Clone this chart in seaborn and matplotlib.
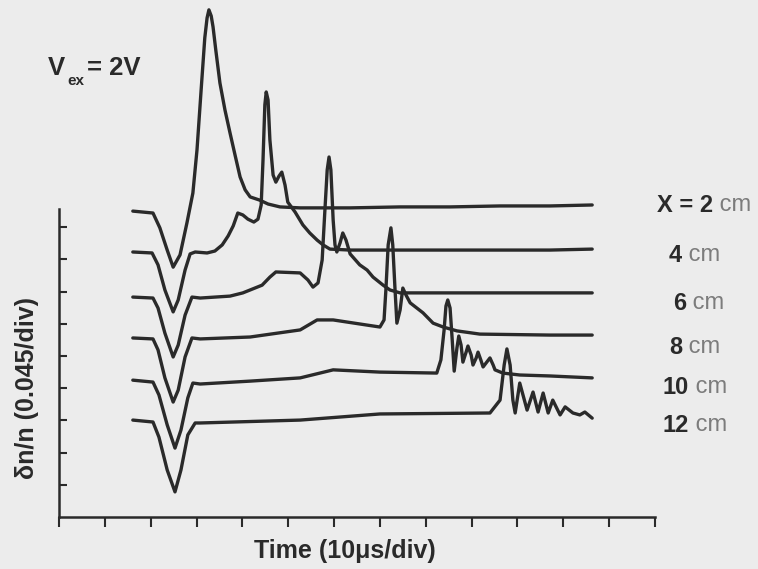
import matplotlib
matplotlib.use("Agg")
import matplotlib.pyplot as plt
import pandas as pd
import seaborn as sns

# probe positions (labels on the right) and the traces
# time in divisions (10 us/div), signal in divisions (0.045/div)
positions = ["X = 2 cm", "4 cm", "6 cm", "8 cm", "10 cm", "12 cm"]

t_2cm = [1.61, 2.05, 2.20, 2.36, 2.49, 2.64, 2.79, 2.92, 3.01, 3.10, 3.18, 3.23, 3.27, 3.32, 3.36,
         3.42, 3.51, 3.62, 3.73, 3.84, 3.95, 4.06, 4.17, 4.38, 4.56, 4.82, 5.26, 6.35, 7.44, 8.53,
         9.62, 10.71, 11.63]
y_2cm = [9.50, 9.44, 8.98, 8.29, 7.76, 8.14, 9.13, 10.06, 11.40, 13.26, 14.88, 15.50, 15.75, 15.56,
         15.22, 14.50, 13.48, 12.64, 11.93, 11.24, 10.56, 10.16, 9.94, 9.84, 9.72, 9.63, 9.60, 9.60,
         9.63, 9.63, 9.66, 9.66, 9.69]

t_4cm = [1.61, 2.03, 2.16, 2.31, 2.49, 2.60, 2.75, 2.86, 2.97, 3.23, 3.40, 3.56, 3.69, 3.80, 3.90,
         4.01, 4.12, 4.25, 4.34, 4.41, 4.45, 4.49, 4.52, 4.56, 4.60, 4.67, 4.73, 4.80, 4.86, 4.93,
         4.99, 5.15, 5.32, 5.47, 5.63, 5.76, 5.91, 6.35, 7.44, 8.53, 9.62, 10.71, 11.63]
y_4cm = [8.23, 8.20, 7.83, 7.05, 6.37, 6.74, 7.67, 8.17, 8.23, 8.20, 8.26, 8.45, 8.73, 9.04, 9.44,
         9.38, 9.25, 9.16, 9.25, 9.69, 11.09, 12.80, 13.20, 12.95, 11.71, 10.62, 10.40, 10.59, 10.71,
         10.31, 9.78, 9.47, 9.07, 8.82, 8.60, 8.45, 8.32, 8.29, 8.29, 8.29, 8.29, 8.29, 8.32]

t_6cm = [1.61, 2.05, 2.16, 2.31, 2.49, 2.60, 2.75, 2.90, 3.08, 3.73, 4.01, 4.43, 4.60, 4.73, 5.26,
         5.43, 5.54, 5.65, 5.74, 5.80, 5.85, 5.89, 5.93, 5.98, 6.02, 6.06, 6.13, 6.19, 6.26, 6.35,
         6.56, 6.72, 6.85, 7.07, 7.22, 7.44, 8.53, 9.62, 10.71, 11.63]
y_6cm = [6.83, 6.80, 6.49, 5.71, 4.97, 5.34, 6.27, 6.83, 6.80, 6.86, 6.96, 7.20, 7.45, 7.61, 7.58,
         7.36, 7.14, 7.27, 7.98, 9.53, 10.78, 11.18, 10.78, 9.22, 8.45, 8.23, 8.51, 8.82, 8.60, 8.17,
         7.83, 7.67, 7.45, 7.20, 7.05, 6.96, 6.96, 6.96, 6.96, 6.96]

t_8cm = [1.61, 2.05, 2.16, 2.31, 2.49, 2.60, 2.75, 2.90, 3.08, 4.17, 5.26, 5.63, 5.98, 6.72, 7.00,
         7.09, 7.13, 7.18, 7.24, 7.28, 7.33, 7.37, 7.44, 7.50, 7.57, 7.66, 7.94, 8.16, 8.38, 8.68,
         9.18, 10.71, 11.63]
y_8cm = [5.56, 5.53, 5.19, 4.32, 3.57, 3.94, 4.97, 5.56, 5.53, 5.59, 5.81, 6.12, 6.12, 5.96, 5.90,
         6.12, 7.05, 8.45, 8.98, 8.45, 7.05, 6.02, 6.43, 7.11, 6.89, 6.65, 6.34, 6.02, 5.90, 5.78,
         5.68, 5.65, 5.65]

t_10cm = [1.61, 2.05, 2.18, 2.36, 2.53, 2.66, 2.81, 2.92, 3.08, 4.17, 5.26, 5.98, 7.00, 8.24, 8.33,
          8.40, 8.44, 8.48, 8.53, 8.57, 8.62, 8.68, 8.72, 8.77, 8.81, 8.88, 8.92, 8.99, 9.03, 9.10,
          9.14, 9.20, 9.25, 9.33, 9.40, 9.47, 9.51, 9.68, 10.05, 10.71, 11.63]
y_10cm = [4.25, 4.19, 3.79, 2.86, 2.14, 2.70, 3.70, 4.16, 4.13, 4.22, 4.32, 4.57, 4.50, 4.47, 4.88,
          5.81, 6.55, 6.74, 6.49, 5.65, 4.53, 5.25, 5.62, 5.34, 4.81, 5.12, 5.31, 5.03, 4.72, 4.94,
          5.12, 4.88, 4.66, 4.81, 4.94, 4.72, 4.57, 4.47, 4.41, 4.38, 4.32]

t_12cm = [1.61, 2.05, 2.18, 2.36, 2.53, 2.66, 2.81, 2.97, 3.08, 5.26, 7.00, 9.40, 9.62, 9.71, 9.77,
          9.84, 9.90, 9.95, 10.05, 10.21, 10.34, 10.45, 10.56, 10.67, 10.77, 10.93, 11.04, 11.21,
          11.36, 11.47, 11.63]
y_12cm = [3.01, 2.95, 2.48, 1.46, 0.78, 1.46, 2.55, 2.92, 2.92, 3.01, 3.20, 3.23, 3.63, 4.72, 5.22,
          4.72, 3.63, 3.23, 4.16, 3.32, 3.88, 3.26, 3.85, 3.23, 3.63, 3.17, 3.42, 3.23, 3.17, 3.26,
          3.07]

traces = [(t_2cm, y_2cm), (t_4cm, y_4cm), (t_6cm, y_6cm),
          (t_8cm, y_8cm), (t_10cm, y_10cm), (t_12cm, y_12cm)]

BG = "#ececec"
INK = "#2a2a2a"
GREY = "#7c7c7c"
W, H = 758, 569

sns.set_theme(style="ticks")
plt.rcParams['font.family'] = ['Liberation Sans', 'DejaVu Sans']

df = pd.concat([pd.DataFrame({"time": t, "signal": y, "position": p})
                for p, (t, y) in zip(positions, traces)], ignore_index=True)

fig = plt.figure(figsize=(W / 100, H / 100), dpi=100, facecolor=BG)
ax = fig.add_axes([59 / W, 52 / H, 596 / W, 517 / H])
ax.set_facecolor(BG)

sns.lineplot(data=df, x="time", y="signal", hue="position", palette=[INK] * 6,
             estimator=None, sort=False, lw=2.4, legend=False, ax=ax)

ax.set_xlim(0, 13)
ax.set_ylim(0, 517 / 32.2)
ax.set_xticks(range(14))
ax.set_yticks(range(1, 10))
ax.set_xticklabels([])
ax.set_yticklabels([])
ax.tick_params(axis='x', direction='out', length=7, width=1.5, color=INK)
ax.tick_params(axis='y', direction='in', length=6, width=1.5, color=INK)
for s in ['top', 'right']:
    ax.spines[s].set_visible(False)
for s in ['left', 'bottom']:
    ax.spines[s].set_linewidth(1.8)
    ax.spines[s].set_color(INK)
ax.spines['left'].set_bounds(0, 308 / 32.2)

ax.set_xlabel("Time (10μs/div)", fontsize=18, fontweight='bold', color=INK)
ax.xaxis.label.set_va('center')
ax.xaxis.set_label_coords((345 - 59) / 596, -34 / 517)
ax.set_ylabel("δn/n (0.045/div)", fontsize=18, fontweight='bold', color=INK)
ax.yaxis.label.set_va('center')
ax.yaxis.set_label_coords((27 - 59) / 596, 129 / 517)

# V_ex = 2V
fig.text(48 / W, 1 - 75 / H, "V", fontsize=18.5, fontweight='bold', color=INK, va='baseline')
fig.text(67 / W, 1 - 85 / H, "ex", fontsize=11, fontweight='bold', color=INK, va='baseline')
fig.text(87 / W, 1 - 75 / H, "= 2V", fontsize=18.5, fontweight='bold', color=INK, va='baseline')

# probe position labels: number dark, unit lighter like the scan
label_x = [657, 669, 673, 669, 663, 663]
label_y = [205, 255, 303, 347, 387, 425]
for lab, lx, ly in zip(positions, label_x, label_y):
    head, unit = lab.rsplit(" ", 1)
    t1 = fig.text(lx / W, 1 - ly / H, head, fontsize=17, fontweight='bold', color=INK,
                  ha='left', va='center')
    ax.annotate(" " + unit, xy=(1, 0.5), xycoords=t1, fontsize=17, color=GREY,
                ha='left', va='center', annotation_clip=False)

fig.savefig("out.png", dpi=100, facecolor=BG)
